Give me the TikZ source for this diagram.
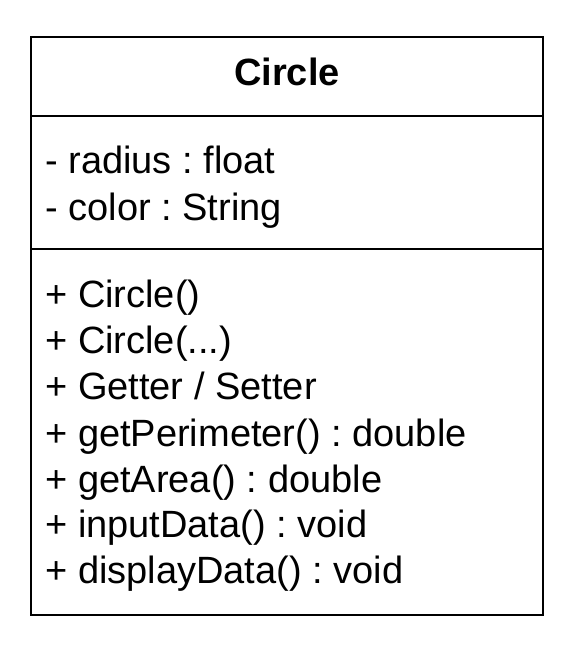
\documentclass[tikz,border=0pt]{standalone}
\usepackage{fontspec}
\setmainfont{Liberation Sans}
\frenchspacing
\begin{document}
\begin{tikzpicture}[x=1pt,y=-1pt,
    member/.style={anchor=base west,inner sep=0pt,font=\fontsize{38}{46}\selectfont},
    title/.style={anchor=base,inner sep=0pt,font=\fontsize{38}{46}\selectfont\bfseries},
    every path/.style={line width=2.6pt}]
  \useasboundingbox (0,0) rectangle (576,653);
  % class box with its three compartments
  \draw (31,37) rectangle (543,615);
  \draw (31,116) -- (543,116);
  \draw (31,249) -- (543,249);
  \node[title] (name) at (287,85) {Circle};
  % attributes
  \node[member] (radius) at (44,173) {- radius : float};
  \node[member] (color) at (44,220) {- color : String};
  % operations
  \node[member] (ctor) at (44,307) {+ Circle()};
  \node[member] (ctorargs) at (44,353) {+ Circle(...)};
  \node[member] (access) at (44,399) {+ Getter / Setter};
  \node[member] (perim) at (44,446) {+ getPerimeter() : double};
  \node[member] (area) at (44,492) {+ getArea() : double};
  \node[member] (input) at (44,537) {+ inputData() : void};
  \node[member] (display) at (44,583) {+ displayData() : void};
\end{tikzpicture}
\end{document}
